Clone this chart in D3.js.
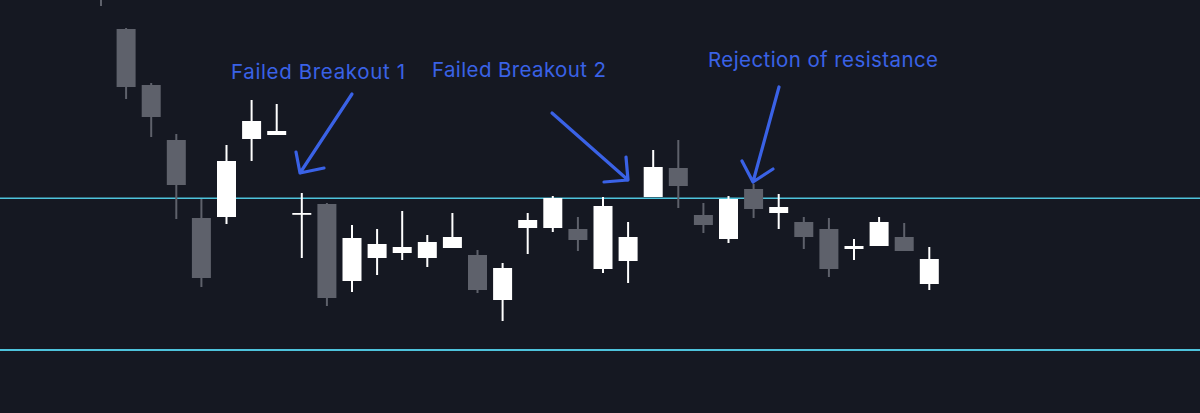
<!DOCTYPE html>
<html><head><meta charset="utf-8">
<script src="https://cdn.jsdelivr.net/npm/d3@7"></script>
<style>html,body{margin:0;padding:0;background:#151822;overflow:hidden}</style>
</head><body><svg id="c" width="1200" height="413"></svg>
<script>
// OHLC values (price units)
const opens  = [163.0,157.1,151.5,146.0,138.2,138.3,146.1,146.5,138.6,139.6,131.9,134.2,134.7,134.2,135.2,134.5,130.0,137.2,137.2,137.1,133.1,133.9,140.3,143.2,138.5,136.1,141.1,138.7,137.8,137.1,135.1,135.4,136.3,131.6];
const highs  = [164.0,157.2,151.7,146.6,140.1,145.5,150.0,149.6,140.7,139.7,137.5,137.1,138.9,136.5,138.7,135.0,133.7,138.7,140.4,138.3,140.3,137.8,145.0,146.0,139.7,140.4,141.6,140.6,138.3,138.2,136.1,138.3,137.7,135.3];
const lows   = [159.4,150.1,146.3,138.1,131.3,137.6,143.9,146.5,134.2,129.4,130.8,132.5,134.0,133.3,135.2,130.7,127.9,134.6,136.8,134.9,132.7,131.7,140.3,139.2,136.7,135.7,138.2,137.1,135.1,132.3,134.0,135.4,134.9,131.0];
const closes = [160.4,151.3,148.3,141.5,132.2,143.9,147.9,146.9,138.7,130.2,136.2,135.6,135.3,135.8,136.3,131.0,133.2,138.0,140.2,136.0,139.4,136.3,143.3,141.4,137.5,140.1,139.1,139.3,136.3,133.1,135.4,137.8,134.9,134.1];
const levels = [125.0, 140.17];
const notes = ["Failed Breakout 1", "Failed Breakout 2", "Rejection of resistance"];

const svg = d3.select("#c");
const W = 1200, H = 413;
const x = d3.scaleLinear().domain([0, 33]).range([101, 929.3]);
const y = d3.scaleLinear().domain([118.7, 160]).range([413, 0]);

svg.append("rect").attr("width", W).attr("height", H).attr("fill", "#151822");

svg.selectAll("line.lvl").data(levels).enter().append("line")
  .attr("x1", 0).attr("x2", W)
  .attr("y1", d => y(d)).attr("y2", d => y(d))
  .attr("stroke", "#4ec3dc").attr("stroke-width", (d, i) => i === 0 ? 1.8 : 1.4);

const data = opens.map((o, i) => ({ i, o, h: highs[i], l: lows[i], c: closes[i] }));
const up = d => d.c >= d.o;
const bw = 19;

const g = svg.append("g");
g.selectAll("line.wick").data(data).enter().append("line")
  .attr("x1", d => x(d.i)).attr("x2", d => x(d.i))
  .attr("y1", d => y(d.h)).attr("y2", d => y(d.l))
  .attr("stroke", d => up(d) ? "#ffffff" : "#5e616b").attr("stroke-width", 2);

g.selectAll("rect.body").data(data).enter().append("rect")
  .attr("x", d => x(d.i) - bw / 2)
  .attr("width", bw)
  .attr("y", d => y(Math.max(d.o, d.c)))
  .attr("height", d => Math.max(1.8, Math.abs(y(d.o) - y(d.c))))
  .attr("fill", d => up(d) ? "#ffffff" : "#5e616b");

const blue = "#3a62e6";
const textPos = [
  { x: 231, y: 79, w: 174 },
  { x: 432, y: 77, w: 174 },
  { x: 708, y: 67, w: 230 }
];
notes.forEach((t, k) => {
  const el = svg.append("text").text(t)
    .attr("x", textPos[k].x).attr("y", textPos[k].y)
    .attr("fill", blue).attr("font-family", "Inter, 'Open Sans', sans-serif")
    .attr("font-size", 20.5);
  const len = el.node().getComputedTextLength();
  el.attr("letter-spacing", (textPos[k].w - len) / (t.length - 1));
});

const arrows = [
  { s: [352, 94], t: [300, 173], a1: [296, 152], a2: [324, 168] },
  { s: [552, 113], t: [628, 180], a1: [626, 157], a2: [604, 182] },
  { s: [779, 87], t: [753, 182], a1: [742, 161], a2: [773, 169] }
];
arrows.forEach(a => {
  const p = d3.path();
  p.moveTo(a.s[0], a.s[1]); p.lineTo(a.t[0], a.t[1]);
  p.moveTo(a.a1[0], a.a1[1]); p.lineTo(a.t[0], a.t[1]); p.lineTo(a.a2[0], a.a2[1]);
  svg.append("path").attr("d", p.toString()).attr("fill", "none")
    .attr("stroke", blue).attr("stroke-width", 3.2)
    .attr("stroke-linecap", "round").attr("stroke-linejoin", "round");
});
</script></body></html>
